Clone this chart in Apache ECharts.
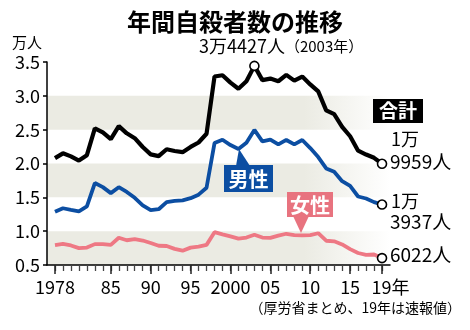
<!DOCTYPE html>
<html><head><meta charset="utf-8">
<script src="https://cdn.jsdelivr.net/npm/echarts@6/dist/echarts.min.js"></script>
<style>html,body{margin:0;padding:0;background:#fff}#c{width:470px;height:330px}</style>
</head><body><div id="c"></div>
<script>
const years = [1978,1979,1980,1981,1982,1983,1984,1985,1986,1987,1988,1989,1990,1991,1992,1993,1994,1995,1996,1997,1998,1999,2000,2001,2002,2003,2004,2005,2006,2007,2008,2009,2010,2011,2012,2013,2014,2015,2016,2017,2018,2019];
const total = [2.0788,2.1503,2.1048,2.0434,2.1228,2.5202,2.4596,2.3599,2.5524,2.4460,2.3742,2.2436,2.1346,2.1084,2.2104,2.1851,2.1679,2.2445,2.3104,2.4391,3.2863,3.3048,3.1957,3.1042,3.2143,3.4427,3.2325,3.2552,3.2155,3.3093,3.2249,3.2845,3.1690,3.0651,2.7858,2.7283,2.5427,2.4025,2.1897,2.1321,2.0840,1.9959];
const male = [1.2859,1.3386,1.3155,1.2942,1.3654,1.7116,1.6508,1.5624,1.6497,1.5802,1.4934,1.3818,1.3102,1.3242,1.4296,1.4468,1.4560,1.4874,1.5393,1.6416,2.3013,2.3512,2.2727,2.2144,2.3080,2.4963,2.3272,2.3540,2.2813,2.3478,2.2831,2.3472,2.2283,2.0955,1.9273,1.8787,1.7386,1.6681,1.5121,1.4826,1.4290,1.3937];
const female = [0.7929,0.8117,0.7893,0.7492,0.7574,0.8086,0.8088,0.7975,0.9027,0.8658,0.8808,0.8618,0.8244,0.7842,0.7808,0.7383,0.7119,0.7571,0.7711,0.7975,0.9850,0.9536,0.9230,0.8898,0.9063,0.9464,0.9053,0.9012,0.9342,0.9615,0.9418,0.9373,0.9407,0.9696,0.8585,0.8496,0.8041,0.7344,0.6776,0.6495,0.6550,0.6022];
const majorYears = [1978,1985,1990,1995,2000,2005,2010,2015,2019];
const majorLabels = ['1978','85','90','95','2000','05','10','15','19'];

const FONT = '"Noto Sans CJK JP", "Noto Sans", sans-serif';
const BLACK = '#000000', BLUE = '#0c4ea2', PINK = '#ee7884', PINKBOX = '#e8737f';

const pts = arr => years.map((y, i) => [y, arr[i]]);
const last = arr => [years[years.length - 1], arr[arr.length - 1]];
const peakIdx = total.indexOf(Math.max(...total));

const bandGrad = {type:'linear', x:0, y:0, x2:1, y2:0, colorStops:[
  {offset:0, color:'#ebebe3'}, {offset:0.75, color:'#ebebe3'}, {offset:1, color:'#ffffff'}]};

const chart = echarts.init(document.getElementById('c'), null, {renderer:'canvas'});

chart.setOption({
  animation:false,
  textStyle:{fontFamily:FONT},
  grid:{left:47, right:80, top:62, bottom:65},
  xAxis:[{
    type:'value', min:1977, max:2020, interval:1,
    axisLine:{show:true, lineStyle:{color:'#000', width:1.5}},
    axisTick:{show:true, customValues:years, length:6, lineStyle:{color:'#444', width:1.3}},
    axisLabel:{show:false}, splitLine:{show:false}
  },{
    type:'value', min:1977, max:2020, position:'bottom',
    axisLine:{show:false},
    axisTick:{show:true, customValues:majorYears, length:9, lineStyle:{color:'#222', width:1.5}},
    axisLabel:{show:true, customValues:majorYears, margin:13, color:'#000', fontSize:18, fontFamily:FONT,
      formatter:v => { const i = majorYears.indexOf(v); if (i < 0) return ''; return v === 2019 ? '{p|}' + majorLabels[i] + '{n|年}' : majorLabels[i]; },
      rich:{p:{width:17}, n:{fontSize:18, fontFamily:FONT, color:'#000'}}},
    splitLine:{show:false}
  }],
  yAxis:{
    type:'value', min:0.5, max:3.5, interval:0.5,
    axisLine:{show:true, lineStyle:{color:'#000', width:1.5}},
    axisTick:{show:true, length:4, lineStyle:{color:'#000', width:1.5}},
    axisLabel:{color:'#000', fontSize:18, margin:7, fontFamily:FONT, formatter:v => v.toFixed(1)},
    splitLine:{show:false},
    splitArea:{show:true, areaStyle:{color:[bandGrad, 'rgba(255,255,255,0)']}}
  },
  series:[
    {type:'line', data:pts(female), symbol:'none', lineStyle:{color:PINK, width:3.8}, z:3},
    {type:'line', data:pts(male), symbol:'none', lineStyle:{color:BLUE, width:3.8}, z:4},
    {type:'line', data:pts(total), symbol:'none', lineStyle:{color:BLACK, width:4.2}, z:5},
    {type:'scatter', data:[last(total), last(male), last(female), [years[peakIdx], total[peakIdx]]],
      symbol:'circle', symbolSize:9, itemStyle:{color:'#fff', borderColor:'#000', borderWidth:1.6, opacity:1}, z:10}
  ],
  graphic:[
    {type:'text', left:'center', top:10, style:{text:'年間自殺者数の推移', font:'bold 24px ' + FONT, fill:'#000'}},
    {type:'text', left:12, top:35, style:{text:'万人', font:'15px ' + FONT, fill:'#000'}},
    {type:'text', left:199, top:37, style:{text:'{a|3万4427人}{b|（2003年）}', rich:{a:{font:'18px ' + FONT, fill:'#000'}, b:{font:'15px ' + FONT, fill:'#000'}}}},
    // 合計 box
    {type:'rect', shape:{x:373, y:99, width:50, height:24}, style:{fill:'#000'}, z:20},
    {type:'text', x:398, y:111, style:{text:'合計', font:'bold 19px ' + FONT, fill:'#fff', align:'center', verticalAlign:'middle'}, z:21},
    // 男性 box
    {type:'polygon', shape:{points:[[236,166],[250,166],[239,149]]}, style:{fill:BLUE}, z:20},
    {type:'rect', shape:{x:224, y:165, width:49, height:27}, style:{fill:BLUE}, z:20},
    {type:'text', x:248.5, y:179, style:{text:'男性', font:'bold 20px ' + FONT, fill:'#fff', align:'center', verticalAlign:'middle'}, z:21},
    // 女性 box
    {type:'polygon', shape:{points:[[293,216],[309,216],[301,233]]}, style:{fill:PINKBOX}, z:20},
    {type:'rect', shape:{x:287, y:192, width:46, height:25}, style:{fill:PINKBOX}, z:20},
    {type:'text', x:310, y:205, style:{text:'女性', font:'bold 20px ' + FONT, fill:'#fff', align:'center', verticalAlign:'middle'}, z:21},
    {type:'text', left:391, top:130, style:{text:'1万', font:'18px ' + FONT, fill:'#000'}},
    {type:'text', left:390, top:152, style:{text:'9959人', font:'19px ' + FONT, fill:'#000'}},
    {type:'text', left:391, top:192, style:{text:'1万', font:'18px ' + FONT, fill:'#000'}},
    {type:'text', left:390, top:212, style:{text:'3937人', font:'19px ' + FONT, fill:'#000'}},
    {type:'text', left:390, top:245, style:{text:'6022人', font:'19px ' + FONT, fill:'#000'}},
    {type:'text', right:9, top:301, style:{text:'（厚労省まとめ、19年は速報値）', font:'14px ' + FONT, fill:'#000'}}
  ]
});
</script></body></html>
